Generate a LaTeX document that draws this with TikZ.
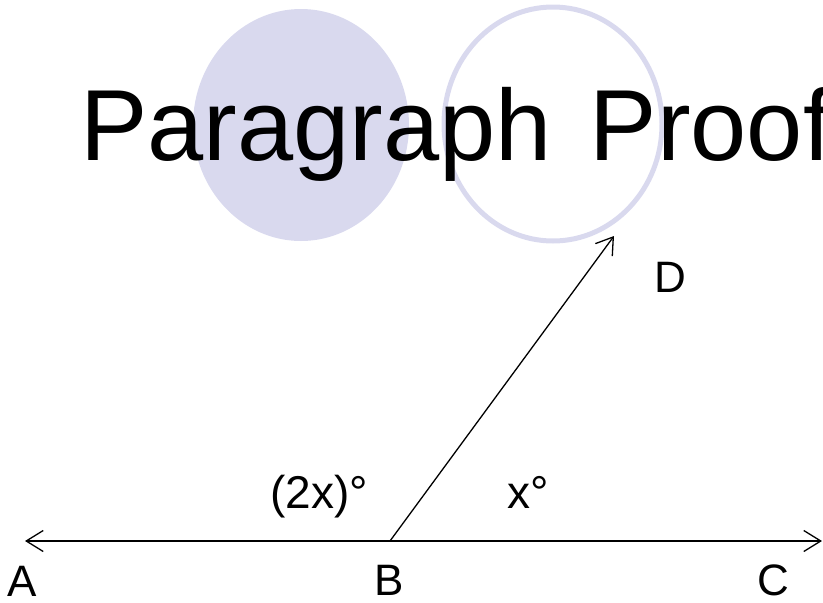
\documentclass[tikz,border=0pt]{standalone}
\usepackage{fontspec}
\setmainfont{Liberation Sans}
\usetikzlibrary{arrows.meta}
\definecolor{lav}{HTML}{D9D9EE}
\begin{document}
\begin{tikzpicture}[x=1pt,y=-1pt,
  lbl/.style={inner sep=0pt,anchor=base west,font=\fontsize{44}{44}\selectfont},
  anglbl/.style={inner sep=0pt,anchor=base west,font=\fontsize{46}{46}\selectfont},
  ray/.style={line width=1.3pt,-{Straight Barb[length=16pt,width=21pt,line width=1.3pt]}},
  line/.style={line width=1.3pt,{Straight Barb[length=17pt,width=21pt,line width=1.3pt]}-{Straight Barb[length=17pt,width=21pt,line width=1.3pt]}}]
\useasboundingbox (0,0) rectangle (823,603);
\fill[lav] (301,125) ellipse [x radius=108, y radius=116];
\draw[lav,line width=5pt] (553,124) ellipse [x radius=109, y radius=117];
\node[inner sep=0pt,anchor=base west,font=\fontsize{101}{101}\selectfont] (title) at (80,160) {Paragraph\hspace{10pt} Proof};
\coordinate (A) at (25,541);
\coordinate (C) at (822,541);
\coordinate (B) at (390,541);
\coordinate (D) at (614,236);
\draw[line] (A) -- (C);
\draw[ray] (B) -- (D);
\node[lbl] (la) at (7,596) {A};
\node[lbl] (lb) at (374,595) {B};
\node[lbl] (lc) at (757,595) {C};
\node[lbl] (ld) at (654,292) {D};
\node[anglbl] (l2x) at (270,508) {(2x)°};
\node[anglbl] (lx) at (507,508) {x°};
\end{tikzpicture}
\end{document}
